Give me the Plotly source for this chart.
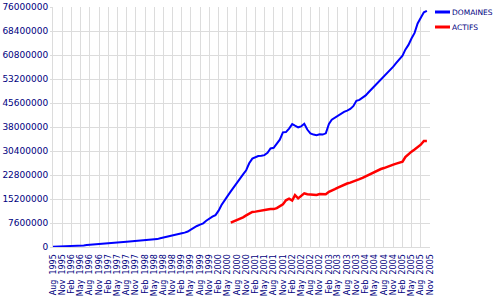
import pandas as pd
import plotly.graph_objects as go

# Monthly values (millions), Aug 1995 .. Oct 2005
domaines_m = [
    0.1, 0.12, 0.15, 0.18, 0.2, 0.25, 0.3, 0.33, 0.37, 0.4,
    0.5, 0.6, 0.7, 0.78, 0.85, 0.92, 1.0, 1.07, 1.13, 1.2,
    1.3, 1.4, 1.5, 1.58, 1.65, 1.72, 1.8, 1.9, 2.0, 2.1,
    2.2, 2.25, 2.3, 2.38, 2.5, 2.75, 3.0, 3.3, 3.6, 3.8,
    4.0, 4.15, 4.35, 4.55, 4.9, 5.5, 6.2, 6.65, 7.1, 7.5,
    8.3, 9.1, 9.6, 10.1, 11.5, 13.3, 14.6, 16.2, 17.6, 19.0,
    20.2, 21.5, 23.0, 24.3, 26.5, 28.0, 28.5, 28.8, 28.9, 29.1,
    29.8, 31.2, 31.4, 32.8, 34.0, 36.3, 36.4, 37.5, 38.9, 38.4,
    37.9, 38.2, 39.0, 37.2, 36.0, 35.6, 35.4, 35.7, 35.6, 36.0,
    39.0, 40.3, 41.0, 41.6, 42.3, 42.8, 43.2, 43.7, 44.6, 46.3,
    46.6, 47.2, 48.0, 49.0, 50.0, 50.9, 51.9, 53.0, 54.0, 55.0,
    56.0, 57.1, 58.3, 59.4, 60.6, 62.5, 64.0, 66.0, 67.8, 70.8,
    72.8, 74.3, 74.8,
]

# ACTIFS starts Jun 2000 (None before)
actifs_m = [None] * 58 + [
    7.7, 8.1, 8.6, 9.0, 9.4, 10.0, 10.5, 11.1, 11.2, 11.4,
    11.6, 11.8, 11.9, 12.0, 12.0, 12.3, 12.8, 13.5, 14.8, 15.3,
    14.7, 16.4, 15.4, 16.2, 17.0, 16.7, 16.6, 16.5, 16.5, 16.8,
    16.8, 16.7, 17.5, 18.0, 18.3, 18.8, 19.3, 19.8, 20.1, 20.4,
    20.7, 21.1, 21.5, 21.9, 22.4, 22.9, 23.3, 23.7, 24.2, 24.7,
    25.0, 25.4, 25.9, 26.1, 26.4, 26.7, 27.0, 28.5, 29.5, 30.2,
    30.9, 31.6, 32.4, 33.6, 33.6,
]

months = pd.date_range("1995-08-01", periods=len(domaines_m), freq="MS")
domaines = [v * 1e6 for v in domaines_m]
actifs = [None if v is None else v * 1e6 for v in actifs_m]

tick_dates = pd.date_range("1995-08-01", "2005-11-01", freq="3MS")
tick_labels = [d.strftime("%b") + "\u00a0\u00a0" + d.strftime("%Y") for d in tick_dates]

y_ticks = [i * 7600000 for i in range(11)]
y_labels = [str(v) for v in y_ticks]

NAVY = "#000080"
GRID = "#dcdcdc"
FONT = "DejaVu Sans"

fig = go.Figure()
fig.add_trace(go.Scatter(x=months, y=domaines, mode="lines", name="DOMAINES",
                         line=dict(color="#0000ff", width=2)))
fig.add_trace(go.Scatter(x=months, y=actifs, mode="lines", name="ACTIFS",
                         line=dict(color="#ff0000", width=2.5)))

fig.update_layout(
    width=500, height=300,
    margin=dict(l=53, r=70, t=7, b=53),
    paper_bgcolor="white", plot_bgcolor="white",
    showlegend=False,
    font=dict(family=FONT, size=9, color=NAVY),
)
fig.update_xaxes(
    range=[tick_dates[0], tick_dates[-1]],
    tickmode="array", tickvals=list(tick_dates), ticktext=tick_labels,
    tickangle=-90, tickfont=dict(family=FONT, size=8, color=NAVY),
    showgrid=True, gridcolor=GRID, gridwidth=1,
    showline=True, linecolor=GRID, linewidth=1,
    ticks="outside", ticklen=3, tickcolor="white",
    automargin=False,
)
fig.update_yaxes(
    range=[0, 76000000],
    tickmode="array", tickvals=y_ticks, ticktext=y_labels,
    tickfont=dict(family=FONT, size=9, color=NAVY),
    showgrid=True, gridcolor=GRID, gridwidth=1,
    zeroline=False, showline=True, linecolor=GRID, linewidth=1,
    ticks="outside", ticklen=2, tickcolor=GRID,
    automargin=False,
)

# custom compact legend
legend_items = [("DOMAINES", "#0000ff"), ("ACTIFS", "#ff0000")]
for i, (name, color) in enumerate(legend_items):
    yp = 1 - (12 + 15 * i - 7) / 240.0
    fig.add_shape(type="line", xref="paper", yref="paper",
                  x0=1 + 5 / 377.0, x1=1 + 20 / 377.0, y0=yp, y1=yp,
                  line=dict(color=color, width=3))
    fig.add_annotation(xref="paper", yref="paper", x=1 + 22 / 377.0, y=yp,
                       text=name, showarrow=False, xanchor="left", yanchor="middle",
                       xshift=-2,
                       font=dict(family=FONT, size=7.5, color=NAVY))

fig.write_html("out.html")
